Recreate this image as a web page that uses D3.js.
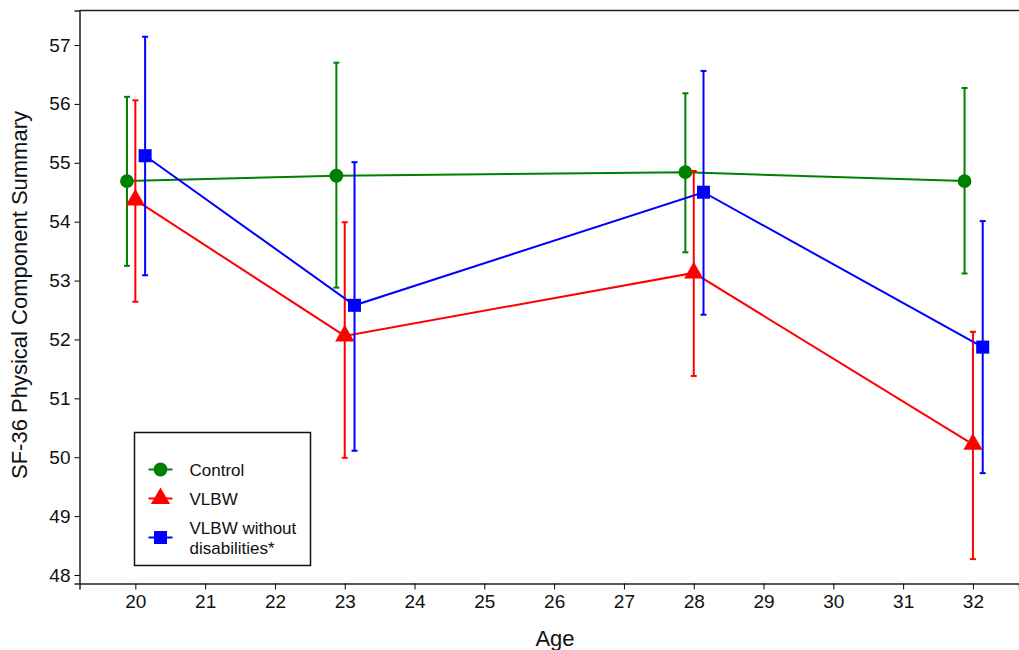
<!DOCTYPE html>
<html>
<head>
<meta charset="utf-8">
<script src="https://cdn.jsdelivr.net/npm/d3@7"></script>
<style>
  body { margin: 0; background: #fff; }
  svg { font-family: "Liberation Sans", Arial, sans-serif; }
</style>
</head>
<body>
<div id="chart"></div>
<script>
const ages = [20, 23, 28, 32];
const xTicks = d3.range(20, 33);
const yTicks = [48, 49, 50, 51, 52, 53, 54, 55, 56, 57];

const controlMean = [54.69, 54.78, 54.84, 54.69];
const controlLow = [53.25, 52.88, 53.48, 53.12];
const controlHigh = [56.12, 56.70, 56.18, 56.27];

const vlbwMean = [54.37, 52.06, 53.13, 50.22];
const vlbwLow = [52.64, 49.99, 51.38, 48.27];
const vlbwHigh = [56.06, 53.99, 54.86, 52.13];

const noDisMean = [55.12, 52.58, 54.50, 51.87];
const noDisLow = [53.09, 50.11, 52.42, 49.73];
const noDisHigh = [57.14, 55.01, 56.56, 54.01];

const width = 1019;
const height = 650;
const margin = { top: 10.5, right: 0, bottom: 66.5, left: 79.5 };

const series = [
  { name: 'Control', color: '#008000', shape: 'circle', dx: -0.12, mean: controlMean, low: controlLow, high: controlHigh },
  { name: 'VLBW', color: '#ff0000', shape: 'triangle', dx: 0, mean: vlbwMean, low: vlbwLow, high: vlbwHigh },
  { name: 'VLBW without disabilities*', color: '#0000ff', shape: 'square', dx: 0.14, mean: noDisMean, low: noDisLow, high: noDisHigh },
];

const svg = d3.select('#chart')
  .append('svg')
  .attr('width', width)
  .attr('height', height);

const x = d3.scaleLinear()
  .domain([19.2, 32.66])
  .range([margin.left, width - margin.right]);

const y = d3.scaleLinear()
  .domain([47.856, 57.586])
  .range([height - margin.bottom, margin.top]);

// frame: top line
svg.append('line')
  .attr('x1', margin.left).attr('x2', width)
  .attr('y1', margin.top).attr('y2', margin.top)
  .attr('stroke', '#222').attr('stroke-width', 1.5);

function xAxis(g) {
  g.attr('transform', `translate(0,${height - margin.bottom})`)
    .call(d3.axisBottom(x).tickValues(xTicks).tickFormat(d3.format('d')).tickSizeOuter(0).tickSize(6).tickPadding(5))
    .attr('font-size', '19px')
    .attr('font-family', '"Liberation Sans", Arial, sans-serif');
  g.select('.domain').attr('stroke', '#222').attr('stroke-width', 1.5);
  g.selectAll('.tick text').attr('fill', '#111');
}

function yAxis(g) {
  g.attr('transform', `translate(${margin.left},0)`)
    .call(d3.axisLeft(y).tickValues(yTicks).tickSizeOuter(0).tickSize(5).tickPadding(4))
    .attr('font-size', '19px')
    .attr('font-family', '"Liberation Sans", Arial, sans-serif');
  g.select('.domain').attr('stroke', '#222').attr('stroke-width', 1.5);
  g.selectAll('.tick text').attr('fill', '#111');
}

svg.append('g').call(xAxis);
svg.append('g').call(yAxis);

svg.append('text')
  .attr('x', 555)
  .attr('y', 646)
  .attr('text-anchor', 'middle')
  .attr('font-size', '22px')
  .attr('fill', '#111')
  .text('Age');

svg.append('text')
  .attr('transform', `translate(27,295) rotate(-90)`)
  .attr('text-anchor', 'middle')
  .attr('font-size', '22px')
  .attr('fill', '#111')
  .text('SF-36 Physical Component Summary');

function symbolPath(shape) {
  if (shape === 'circle') return d3.symbol(d3.symbolCircle, 150)();
  if (shape === 'triangle') return d3.symbol(d3.symbolTriangle, 160)();
  return d3.symbol(d3.symbolSquare, 170)();
}

const line = d3.line();

series.forEach(s => {
  const g = svg.append('g');
  const pts = ages.map((a, i) => [x(a + s.dx), y(s.mean[i])]);

  g.append('path')
    .attr('d', line(pts))
    .attr('fill', 'none')
    .attr('stroke', s.color)
    .attr('stroke-width', 2);

  const bars = g.selectAll('g.err')
    .data(ages)
    .join('g')
    .attr('class', 'err');
  bars.append('line')
    .attr('x1', (d) => x(d + s.dx)).attr('x2', (d) => x(d + s.dx))
    .attr('y1', (d, i) => y(s.low[i])).attr('y2', (d, i) => y(s.high[i]))
    .attr('stroke', s.color).attr('stroke-width', 2);
  bars.append('line')
    .attr('x1', (d) => x(d + s.dx) - 3).attr('x2', (d) => x(d + s.dx) + 3)
    .attr('y1', (d, i) => y(s.low[i])).attr('y2', (d, i) => y(s.low[i]))
    .attr('stroke', s.color).attr('stroke-width', 2);
  bars.append('line')
    .attr('x1', (d) => x(d + s.dx) - 3).attr('x2', (d) => x(d + s.dx) + 3)
    .attr('y1', (d, i) => y(s.high[i])).attr('y2', (d, i) => y(s.high[i]))
    .attr('stroke', s.color).attr('stroke-width', 2);

  g.selectAll('path.mark')
    .data(ages)
    .join('path')
    .attr('class', 'mark')
    .attr('d', symbolPath(s.shape))
    .attr('transform', (d, i) => `translate(${x(d + s.dx)},${y(s.mean[i])})`)
    .attr('fill', s.color);
});

// legend
const legend = svg.append('g').attr('transform', 'translate(134.5,432.5)');
legend.append('rect')
  .attr('width', 176).attr('height', 133)
  .attr('fill', '#fff').attr('stroke', '#111').attr('stroke-width', 1.5);

const legendY = [37, 66, 105];
series.forEach((s, i) => {
  const row = legend.append('g').attr('transform', `translate(0,${legendY[i]})`);
  row.append('line')
    .attr('x1', 14).attr('x2', 38)
    .attr('stroke', s.color).attr('stroke-width', 2);
  row.append('path')
    .attr('d', symbolPath(s.shape))
    .attr('transform', 'translate(26,0)')
    .attr('fill', s.color);
  if (i === 2) {
    const t = row.append('text').attr('x', 55).attr('font-size', '17px').attr('fill', '#111');
    t.append('tspan').attr('x', 55).attr('y', -4).text('VLBW without');
    t.append('tspan').attr('x', 55).attr('y', 16).text('disabilities*');
  } else {
    row.append('text')
      .attr('x', 55).attr('y', 6)
      .attr('font-size', '17px').attr('fill', '#111')
      .text(s.name);
  }
});
</script>
</body>
</html>
